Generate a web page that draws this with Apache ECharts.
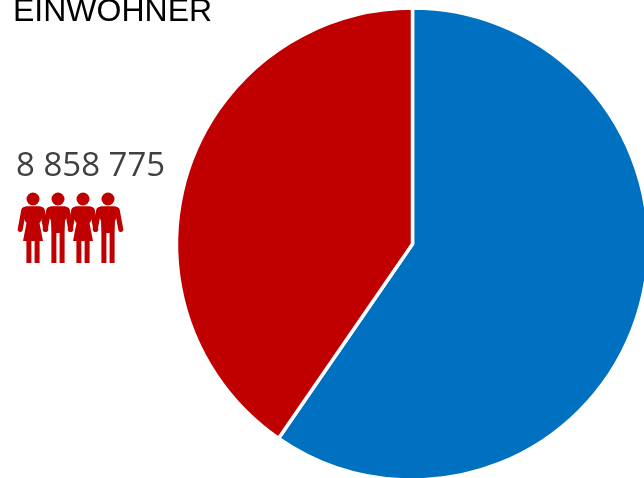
<!DOCTYPE html>
<html>
<head>
<meta charset="utf-8">
<style>
    html, body { margin: 0; padding: 0; background: #fff; }
    #chart { width: 644px; height: 478px; overflow: hidden; }
</style>
<script src="https://cdn.jsdelivr.net/npm/echarts@6/dist/echarts.min.js"></script>
</head>
<body>
<div id="chart"></div>
<script>
    const titleText = 'EINWOHNER'
    const populationLabel = '8 858 775'
    // share of each slice in percent
    const sliceNames = ['Andere', 'Einwohner']
    const sliceValues = [59.6, 40.4]
    const sliceColors = ['#0070C0', '#C00000']
    const iconKinds = ['woman', 'man', 'woman', 'man']

    // figures, head centre at 0,0
    const womanBody = [[-7, 7.2], [7, 7.2], [10, 8.5], [11.5, 12], [8, 22], [6.5, 24], [10, 42], [6.6, 42], [6.6, 64], [1.6, 64], [1.6, 42], [-1.6, 42], [-1.6, 64], [-6.6, 64], [-6.6, 42], [-10, 42], [-6.5, 24], [-8, 22], [-11.5, 12], [-10, 8.5]]
    const manBody = [[-7, 7.2], [7, 7.2], [10, 8.5], [11.5, 12], [7, 22], [6.6, 34], [6.6, 64], [1.6, 64], [1.6, 34], [-1.6, 34], [-1.6, 64], [-6.6, 64], [-6.6, 34], [-7, 22], [-11.5, 12], [-10, 8.5]]
    const leftArm = [[-9.2, 11], [-12.8, 30.5]]
    const rightArm = [[9.2, 11], [12.8, 30.5]]

    const iconElements = iconKinds.map((kind, i) => ({
        type: 'group',
        x: 33 + i * 25,
        y: 199,
        children: [
            { type: 'circle', shape: { cx: 0, cy: 0, r: 6.5 }, style: { fill: '#C00000' } },
            { type: 'polygon', shape: { points: kind === 'woman' ? womanBody : manBody }, style: { fill: '#C00000' } },
            { type: 'polyline', shape: { points: leftArm }, style: { stroke: '#C00000', lineWidth: 5, lineCap: 'round', fill: null } },
            { type: 'polyline', shape: { points: rightArm }, style: { stroke: '#C00000', lineWidth: 5, lineCap: 'round', fill: null } }
        ]
    }))

    const chart = echarts.init(document.getElementById('chart'), null, { renderer: 'canvas' })
    chart.setOption({
        animation: false,
        title: {
            text: titleText,
            left: 8,
            top: -9,
            textStyle: {
                fontFamily: 'Liberation Sans',
                fontSize: 32,
                fontWeight: 'normal',
                color: '#000'
            }
        },
        graphic: [
            {
                type: 'text',
                x: 16,
                y: 150,
                style: {
                    text: populationLabel,
                    font: '33px "Open Sans"',
                    fill: '#404040'
                }
            },
            ...iconElements
        ],
        series: [
            {
                type: 'pie',
                center: [412.5, 244],
                radius: ['0', 236],
                startAngle: 90,
                clockwise: true,
                label: { show: false },
                labelLine: { show: false },
                silent: true,
                itemStyle: {
                    borderColor: '#fff',
                    borderWidth: 3.5
                },
                data: sliceNames.map((name, i) => ({
                    name,
                    value: sliceValues[i],
                    itemStyle: { color: sliceColors[i] }
                }))
            }
        ]
    })
</script>
</body>
</html>
